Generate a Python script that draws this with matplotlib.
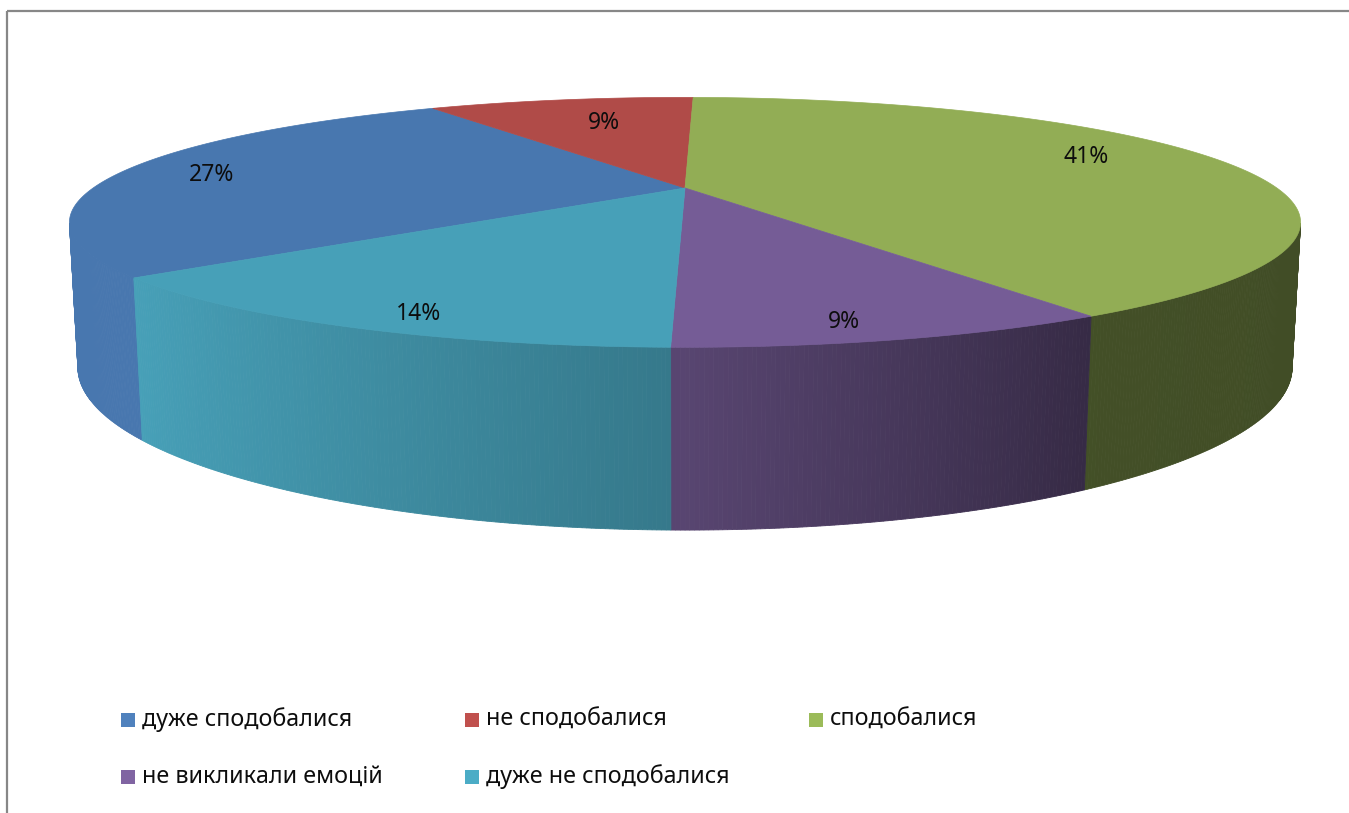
import numpy as np
import matplotlib.pyplot as plt
from matplotlib.colors import to_rgb
from matplotlib.patches import Polygon, Rectangle

# дані
labels = ['дуже сподобалися', 'не сподобалися', 'сподобалися',
          'не викликали емоцій', 'дуже не сподобалися']
counts = [6, 2, 9, 2, 3]
top_colors = ['#4877AF', '#B04B48', '#92AD55', '#755C96', '#47A0B8']
legend_colors = ['#4F81BD', '#C0504D', '#9BBB59', '#8064A2', '#4BACC6']
first_angle = 230.1  # кут першого сектора (за годинниковою стрілкою від верху)

# розміщення підписів (радіус і зсув по вертикалі)
label_r = [0.84, 0.6, 0.74, 0.8, 0.83]
label_dy = [2, -7, -10, 21, 17]

plt.rcParams['font.family'] = ['Noto Sans', 'DejaVu Sans']

W, H = 1349, 813
fig = plt.figure(figsize=(W / 100, H / 100), dpi=100)
ax = fig.add_axes([0, 0, 1, 1])
ax.set_xlim(0, W)
ax.set_ylim(H, 0)
ax.axis('off')

# проста перспективна проекція диска
cx, cy, f = 685, 188, 2113
elev = np.arctan(0.199)
dist = 3.57
depth = 0.236
s, c = np.sin(elev), np.cos(elev)


def project(phi, r=1.0, z=0.0):
    X = r * np.sin(phi)
    Y = r * np.cos(phi)
    yc = Y * s + z * c
    zc = Y * c + dist - z * s
    return cx + f * X / zc, cy - f * yc / zc


vals = np.array(counts, dtype=float)
frac = vals / vals.sum()
starts = np.radians(first_angle) + 2 * np.pi * np.concatenate([[0], np.cumsum(frac)[:-1]])
ends = starts + 2 * np.pi * frac
vis = np.arccos(-1 / (dist * c))

# бокова поверхня (освітлення зліва)
for a0, a1, col in zip(starts, ends, top_colors):
    phis = np.linspace(a0, a1, max(int(np.degrees(a1 - a0) * 3), 2))
    base = np.array(to_rgb(col))
    for p0, p1 in zip(phis[:-1], phis[1:]):
        pm = ((p0 + p1) / 2) % (2 * np.pi)
        if pm < vis or pm > 2 * np.pi - vis:
            continue
        k = np.interp(np.sin(pm), [-1, -0.77, 0, 0.53, 1], [1.0, 1.0, 0.75, 0.46, 0.44])
        pts = [project(p0), project(p1), project(p1, z=-depth), project(p0, z=-depth)]
        ax.add_patch(Polygon(pts, closed=True, facecolor=base * k,
                             edgecolor=base * k, lw=0.6))

# верхня поверхня
for a0, a1, col in zip(starts, ends, top_colors):
    phis = np.linspace(a0, a1, 200)
    pts = [project(0, r=0)] + [project(p) for p in phis]
    ax.add_patch(Polygon(pts, closed=True, facecolor=col, edgecolor=col, lw=0.5))

# підписи
for a0, a1, v, r, dy in zip(starts, ends, frac, label_r, label_dy):
    x, y = project((a0 + a1) / 2, r=r)
    ax.text(x, y + dy, f'{v * 100:.0f}%', ha='center', va='center',
            fontsize=16.5, color='#0d0d0d')

# легенда
for i, (lab, col) in enumerate(zip(labels, legend_colors)):
    row, cl = divmod(i, 3)
    x0 = 121 + 344 * cl
    y0 = 720 + 57 * row
    ax.add_patch(Rectangle((x0, y0 - 7), 14, 14, facecolor=col, edgecolor='none'))
    ax.text(x0 + 21, y0, lab, ha='left', va='center', fontsize=16.8, color='#0d0d0d')

# рамка
ax.plot([7, W], [11, 11], color='#878787', lw=1.6, solid_capstyle='butt')
ax.plot([7, 7], [11, H], color='#878787', lw=1.6, solid_capstyle='butt')

plt.savefig('out.png', dpi=100)
